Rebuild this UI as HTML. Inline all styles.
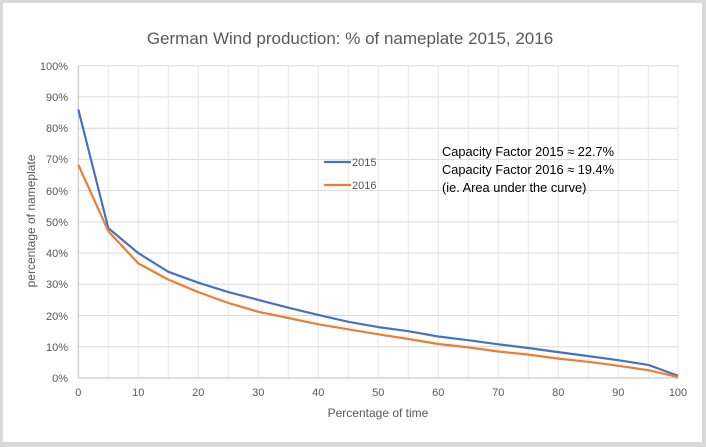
<!DOCTYPE html>
<html><head><style>
body{margin:0;background:#fff}
svg{display:block;font-family:"Liberation Sans",sans-serif}
</style></head><body>
<svg width="706" height="447" viewBox="0 0 706 447">
<rect x="0" y="0" width="706" height="447" fill="#d9d9d9"/>
<rect x="3" y="3" width="699" height="439" fill="#fff"/>
<text x="350" y="44" font-size="17" fill="#595959" text-anchor="middle">German Wind production: % of nameplate 2015, 2016</text>
<g stroke="#d9d9d9" stroke-width="1">
<line x1="78.3" x2="678" y1="65.7" y2="65.7"/><line x1="78.3" x2="678" y1="96.9" y2="96.9"/><line x1="78.3" x2="678" y1="128.2" y2="128.2"/><line x1="78.3" x2="678" y1="159.4" y2="159.4"/><line x1="78.3" x2="678" y1="190.6" y2="190.6"/><line x1="78.3" x2="678" y1="221.9" y2="221.9"/><line x1="78.3" x2="678" y1="253.1" y2="253.1"/><line x1="78.3" x2="678" y1="284.3" y2="284.3"/><line x1="78.3" x2="678" y1="315.5" y2="315.5"/><line x1="78.3" x2="678" y1="346.8" y2="346.8"/>
</g>
<g stroke="#e6e6e6" stroke-width="1">
<line y1="65.7" y2="378" x1="108.3" x2="108.3"/><line y1="65.7" y2="378" x1="138.3" x2="138.3"/><line y1="65.7" y2="378" x1="168.3" x2="168.3"/><line y1="65.7" y2="378" x1="198.3" x2="198.3"/><line y1="65.7" y2="378" x1="228.3" x2="228.3"/><line y1="65.7" y2="378" x1="258.3" x2="258.3"/><line y1="65.7" y2="378" x1="288.3" x2="288.3"/><line y1="65.7" y2="378" x1="318.3" x2="318.3"/><line y1="65.7" y2="378" x1="348.3" x2="348.3"/><line y1="65.7" y2="378" x1="378.3" x2="378.3"/><line y1="65.7" y2="378" x1="408.3" x2="408.3"/><line y1="65.7" y2="378" x1="438.3" x2="438.3"/><line y1="65.7" y2="378" x1="468.3" x2="468.3"/><line y1="65.7" y2="378" x1="498.3" x2="498.3"/><line y1="65.7" y2="378" x1="528.3" x2="528.3"/><line y1="65.7" y2="378" x1="558.3" x2="558.3"/><line y1="65.7" y2="378" x1="588.3" x2="588.3"/><line y1="65.7" y2="378" x1="618.3" x2="618.3"/><line y1="65.7" y2="378" x1="648.3" x2="648.3"/><line y1="65.7" y2="378" x1="678" x2="678"/>
</g>
<line x1="78.3" x2="78.3" y1="65.7" y2="378" stroke="#bfbfbf"/>
<line x1="78.3" x2="678" y1="378" y2="378" stroke="#bfbfbf"/>
<g font-size="11" fill="#595959" text-anchor="end">
<text x="68" y="382">0%</text><text x="68" y="351">10%</text><text x="68" y="320">20%</text><text x="68" y="288">30%</text><text x="68" y="257">40%</text><text x="68" y="226">50%</text><text x="68" y="195">60%</text><text x="68" y="163">70%</text><text x="68" y="132">80%</text><text x="68" y="101">90%</text><text x="68" y="70">100%</text>
</g>
<g font-size="11" fill="#595959" text-anchor="middle">
<text x="78.3" y="396">0</text><text x="138.3" y="396">10</text><text x="198.3" y="396">20</text><text x="258.3" y="396">30</text><text x="318.3" y="396">40</text><text x="378.3" y="396">50</text><text x="438.3" y="396">60</text><text x="498.3" y="396">70</text><text x="558.3" y="396">80</text><text x="618.3" y="396">90</text><text x="678" y="396">100</text>
</g>
<text x="378" y="417" font-size="12" fill="#595959" text-anchor="middle">Percentage of time</text>
<text transform="translate(35,221) rotate(-90)" font-size="12" fill="#595959" text-anchor="middle">percentage of nameplate</text>
<polyline fill="none" stroke="#4472c4" stroke-width="2.2" stroke-linejoin="round" points="78.3,109.4 108.3,228.1 138.3,253.1 168.3,271.8 198.3,282.7 228.3,292.1 258.3,299.9 288.3,307.7 318.3,314.9 348.3,321.8 378.3,327.1 408.3,331.2 438.3,336.5 468.3,340.2 498.3,344.3 528.3,348.0 558.3,352.1 588.3,356.1 618.3,360.2 648.3,364.9 678,375.8"/>
<polyline fill="none" stroke="#ed7d31" stroke-width="2.2" stroke-linejoin="round" points="78.3,164.7 108.3,231.2 138.3,263.4 168.3,279.6 198.3,292.1 228.3,303.0 258.3,311.8 288.3,318.0 318.3,324.3 348.3,329.3 378.3,334.3 408.3,339.0 438.3,344.0 468.3,347.4 498.3,351.5 528.3,354.6 558.3,358.6 588.3,361.8 618.3,365.8 648.3,370.2 678,377.1"/>
<line x1="324" x2="351" y1="162" y2="162" stroke="#4472c4" stroke-width="2.2"/>
<text x="352" y="166" font-size="11" fill="#595959">2015</text>
<line x1="324" x2="351" y1="185" y2="185" stroke="#ed7d31" stroke-width="2.2"/>
<text x="352" y="189" font-size="11" fill="#595959">2016</text>
<g font-size="12.8" fill="#000">
<text x="442" y="156">Capacity Factor 2015 ≈ 22.7%</text>
<text x="442" y="174">Capacity Factor 2016 ≈ 19.4%</text>
<text x="442" y="192">(ie. Area under the curve)</text>
</g>
</svg>
</body></html>
